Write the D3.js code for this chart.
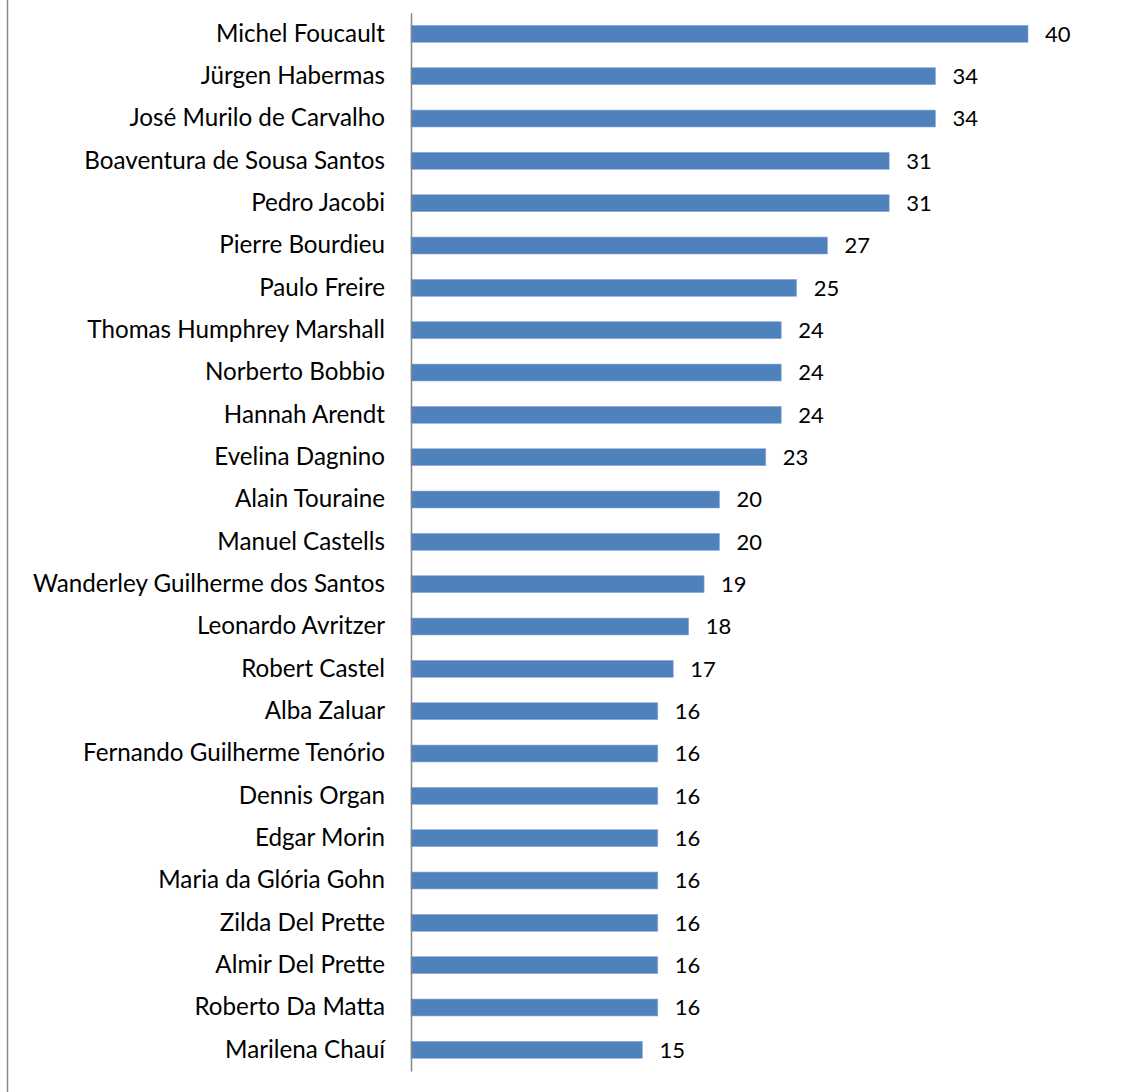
<!DOCTYPE html>
<html>
<head>
<meta charset="utf-8">
<script src="https://cdn.jsdelivr.net/npm/d3@7"></script>
<style>
  html, body { margin: 0; padding: 0; background: #fff; }
  svg text { font-family: Lato, "Open Sans", sans-serif; fill: #000; }
</style>
</head>
<body>
<div id="chart"></div>
<script>
(() => {
"use strict";

const WIDTH = 1125, HEIGHT = 1092;

const authors = [
  "Michel Foucault", "Jürgen Habermas", "José Murilo de Carvalho",
  "Boaventura de Sousa Santos", "Pedro Jacobi", "Pierre Bourdieu",
  "Paulo Freire", "Thomas Humphrey Marshall", "Norberto Bobbio",
  "Hannah Arendt", "Evelina Dagnino", "Alain Touraine", "Manuel Castells",
  "Wanderley Guilherme dos Santos", "Leonardo Avritzer", "Robert Castel",
  "Alba Zaluar", "Fernando Guilherme Tenório", "Dennis Organ", "Edgar Morin",
  "Maria da Glória Gohn", "Zilda Del Prette", "Almir Del Prette",
  "Roberto Da Matta", "Marilena Chauí"
];
const citations = [40, 34, 34, 31, 31, 27, 25, 24, 24, 24, 23, 20, 20,
  19, 18, 17, 16, 16, 16, 16, 16, 16, 16, 16, 15];

let data = authors.map((a, i) => ({ name: a, value: citations[i] }));

let svg = d3.select("#chart").append("svg")
  .attr("width", WIDTH)
  .attr("height", HEIGHT);

// outer chart border (only the left edge is in frame)
svg.append("line")
  .attr("x1", 7.5).attr("x2", 7.5)
  .attr("y1", 0).attr("y2", HEIGHT)
  .attr("stroke", "#868686")
  .attr("stroke-width", 1.5);

let xScale = d3.scaleLinear()
  .domain([0, 40])
  .range([411, 1028]);

let yScale = d3.scaleBand()
  .domain(authors)
  .range([12.7, 1071])
  .paddingInner(0.6)
  .paddingOuter(0.3);

svg.selectAll("rect.bar")
  .data(data)
  .enter().append("rect")
  .attr("class", "bar")
  .attr("x", xScale(0))
  .attr("y", d => yScale(d.name))
  .attr("width", d => xScale(d.value) - xScale(0))
  .attr("height", yScale.bandwidth())
  .attr("fill", "#4F81BD")
  .attr("stroke", "#8EAADB")
  .attr("stroke-width", 0.6);

// category axis
let yAxis = d3.axisLeft(yScale).tickSize(0).tickPadding(26);
let gAxis = svg.append("g")
  .attr("transform", `translate(${xScale(0)},0)`)
  .call(yAxis);
gAxis.select(".domain")
  .attr("stroke", "#868686")
  .attr("stroke-width", 1.5);
gAxis.selectAll("text")
  .attr("font-size", 24.2)
  .attr("font-family", "Lato, 'Open Sans', sans-serif");

// value labels
svg.selectAll("text.value")
  .data(data)
  .enter().append("text")
  .attr("class", "value")
  .attr("x", d => xScale(d.value) + 17)
  .attr("y", d => yScale(d.name) + yScale.bandwidth() / 2)
  .attr("dy", "0.35em")
  .attr("font-size", 22)
  .text(d => d.value);
})();
</script>
</body>
</html>
